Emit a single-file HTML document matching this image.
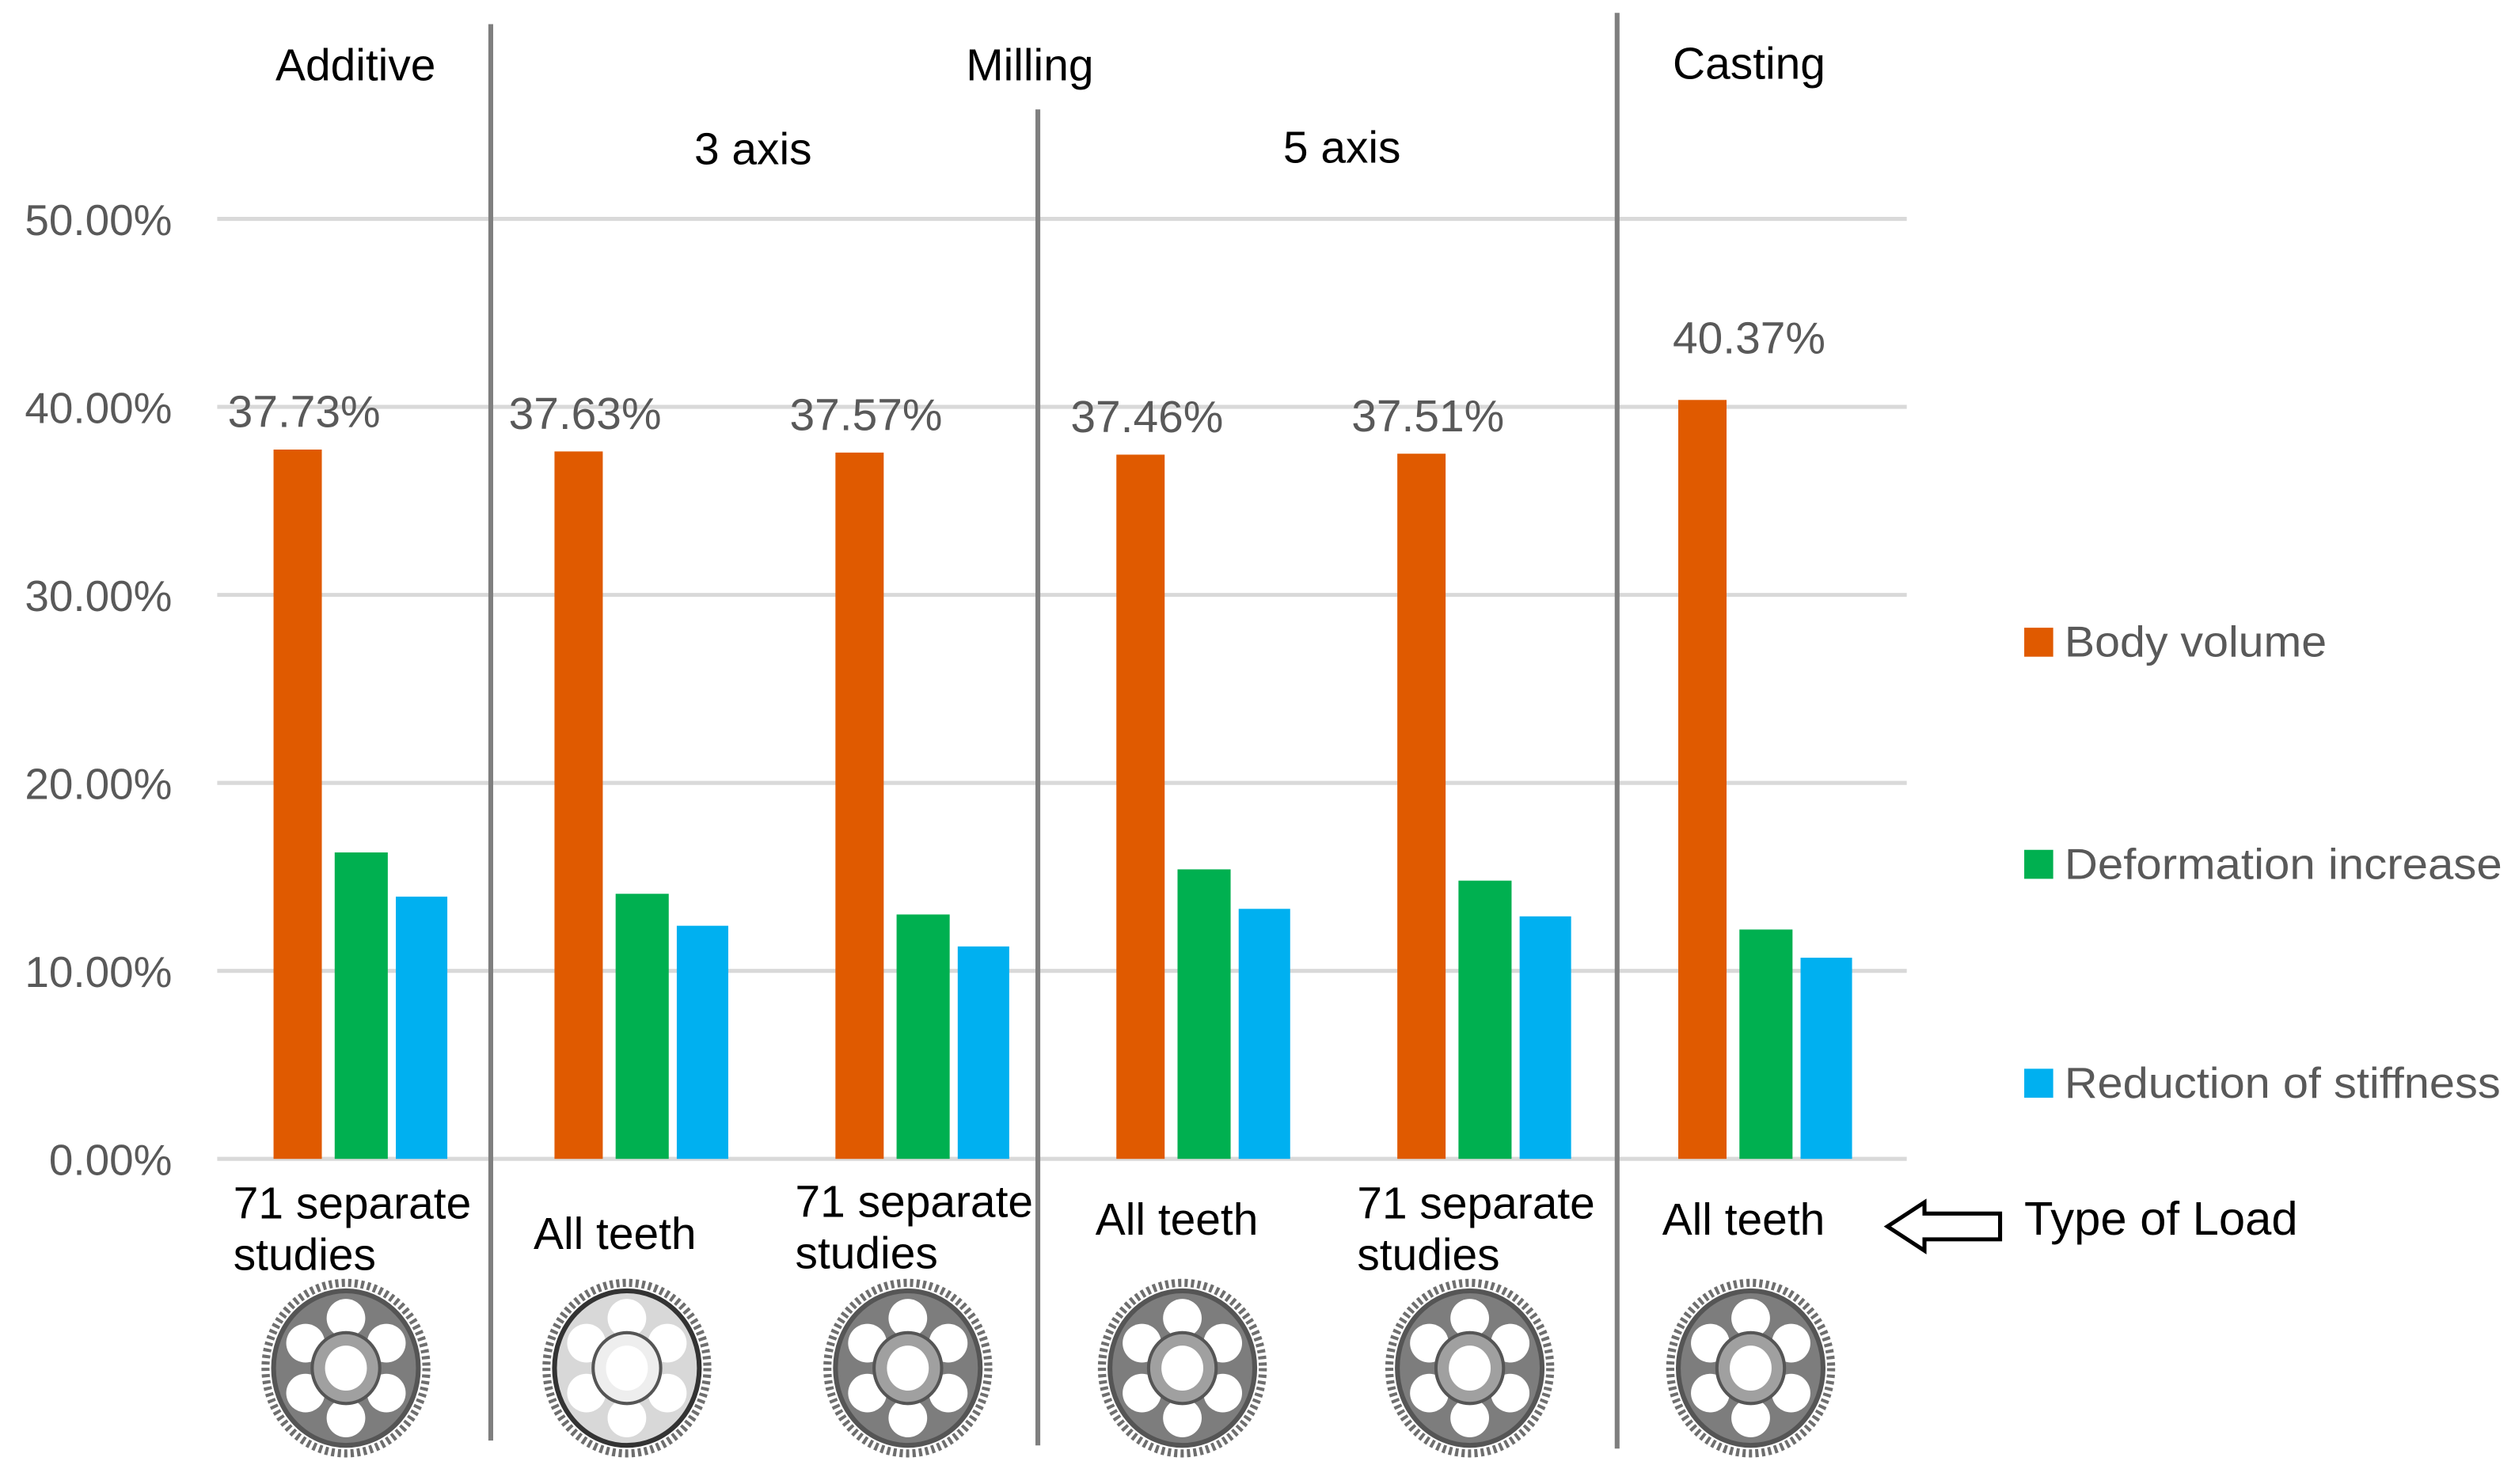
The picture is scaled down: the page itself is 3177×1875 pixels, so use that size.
<!DOCTYPE html>
<html><head><meta charset="utf-8"><style>
html,body{margin:0;padding:0;background:#fff;}
svg{display:block;}
</style></head><body>
<svg id="chart" width="3177" height="1875" viewBox="0 0 1563 922" preserveAspectRatio="none" xmlns="http://www.w3.org/2000/svg" font-family="'Liberation Sans', sans-serif">
<g id="grid"></g>
<g id="yticks"></g>
<g id="bars"></g>
<g id="labels"></g>
<g id="cats"></g>
<g id="gears"></g>
<g stroke="#7f7f7f" stroke-width="3">
<line x1="305" y1="15" x2="305" y2="895"/>
<line x1="645" y1="68" x2="645" y2="898"/>
<line x1="1005" y1="8" x2="1005" y2="900"/>
</g>
<g font-size="28" fill="#000" text-anchor="middle">
<text x="221" y="50">Additive</text>
<text x="640" y="50">Milling</text>
<text x="468" y="102">3 axis</text>
<text x="834" y="101">5 axis</text>
<text x="1087" y="49">Casting</text>
</g>
<g font-size="27" fill="#595959">
<rect x="1258" y="390" width="18" height="18" fill="#e05a00"/>
<text x="1283" y="408" textLength="163" lengthAdjust="spacingAndGlyphs">Body volume</text>
<rect x="1258" y="528" width="18" height="18" fill="#00b050"/>
<text x="1283" y="546" textLength="272" lengthAdjust="spacingAndGlyphs">Deformation increase</text>
<rect x="1258" y="664" width="18" height="18" fill="#00b0f0"/>
<text x="1283" y="682" textLength="271" lengthAdjust="spacingAndGlyphs">Reduction of stiffness</text>
</g>
<path d="M1173 762 L1196 747 L1196 754 L1243 754 L1243 770 L1196 770 L1196 777 Z" fill="#fff" stroke="#000" stroke-width="2.5"/>
<text x="1258" y="767" font-size="29" fill="#000" textLength="170" lengthAdjust="spacingAndGlyphs">Type of Load</text>
</svg>
<script>
const categories = ["Additive 71 separate studies","3 axis All teeth","3 axis 71 separate studies","5 axis All teeth","5 axis 71 separate studies","Casting All teeth"];
const bodyVolume = [37.73,37.63,37.57,37.46,37.51,40.37];
const deformation = [16.3,14.1,13.0,15.4,14.8,12.2];
const stiffness = [13.95,12.4,11.3,13.3,12.9,10.7];
const yTicks = [0,10,20,30,40,50];
const yTickLabels = ["0.00%","10.00%","20.00%","30.00%","40.00%","50.00%"];
const catLines = [["71 separate","studies"],["All teeth"],["71 separate","studies"],["All teeth"],["71 separate","studies"],["All teeth"]];

const NS="http://www.w3.org/2000/svg";
function y(v){return 720 - v*11.68;}
function gx(i){return 170 + i*174.6;}
function mk(tag,attrs,parent){const e=document.createElementNS(NS,tag);for(const k in attrs)e.setAttribute(k,attrs[k]);parent.appendChild(e);return e;}
const grid=document.getElementById('grid'),yt=document.getElementById('yticks'),bars=document.getElementById('bars'),labels=document.getElementById('labels'),cats=document.getElementById('cats'),gears=document.getElementById('gears');
yTicks.forEach((t,i)=>{
  const l=mk('line',{x1:135,x2:1185,y1:y(t),y2:y(t),stroke:'#d9d9d9','stroke-width':2.5},grid);
  
  
  const tx=mk('text',{x:107,y:y(t)+10,'text-anchor':'end','font-size':27,fill:'#595959'},yt);
  tx.textContent=yTickLabels[i];
  
  
});
categories.forEach((c,i)=>{
  const x=gx(i);
  const b1=mk('rect',{x:x,y:y(bodyVolume[i]),width:30,height:720-y(bodyVolume[i]),fill:'#e05a00'},bars);
  
  
  const b2=mk('rect',{x:x+38,y:y(deformation[i]),width:33,height:720-y(deformation[i]),fill:'#00b050'},bars);
  
  
  const b3=mk('rect',{x:x+76,y:y(stiffness[i]),width:32,height:720-y(stiffness[i]),fill:'#00b0f0'},bars);
  
  
  const last = i===categories.length-1;
  const lb=mk('text',{x:x+(last?44:19),y:y(bodyVolume[i])-(last?29:14),'text-anchor':'middle','font-size':28,fill:'#595959'},labels);
  lb.textContent=bodyVolume[i].toFixed(2)+'%';
  
  
  const lines=catLines[i];
  const t=mk('text',{'font-size':28,fill:'#000'},cats);
  
  
  if(lines.length===2){
    const a=mk('tspan',{x:x-25,y:i===2?756:757},t);a.textContent=lines[0];
    const b=mk('tspan',{x:x-25,y:i===2?788:789},t);b.textContent=lines[1];
  } else {
    const a=mk('tspan',{x:x-13+(i===5?3:0),y:i===1?776:767},t);a.textContent=lines[0];
  }
  const cx=x+45+(i===3?-4:0), cy=850;
  const g=mk('g',{},gears);
  
  
  const light = i===1;
  mk('ellipse',{cx:cx,cy:cy,rx:50,ry:53,fill:'none',stroke:'#6e6e6e','stroke-width':5,'stroke-dasharray':'2 2'},g);
  mk('ellipse',{cx:cx,cy:cy,rx:45,ry:48,fill:light?'#d8d8d8':'#7d7d7d',stroke:light?'#333':'#555','stroke-width':3},g);
  for(let k=0;k<6;k++){
    const a=k*Math.PI/3+Math.PI/6;
    mk('ellipse',{cx:cx+Math.cos(a)*29,cy:cy+Math.sin(a)*31,rx:12,ry:12,fill:'#fff'},g);
  }
  mk('ellipse',{cx:cx,cy:cy,rx:21,ry:22,fill:light?'#eee':'#a0a0a0',stroke:'#555','stroke-width':2},g);
  mk('ellipse',{cx:cx,cy:cy,rx:13,ry:14,fill:'#fff'},g);
});
</script>
</body></html>
